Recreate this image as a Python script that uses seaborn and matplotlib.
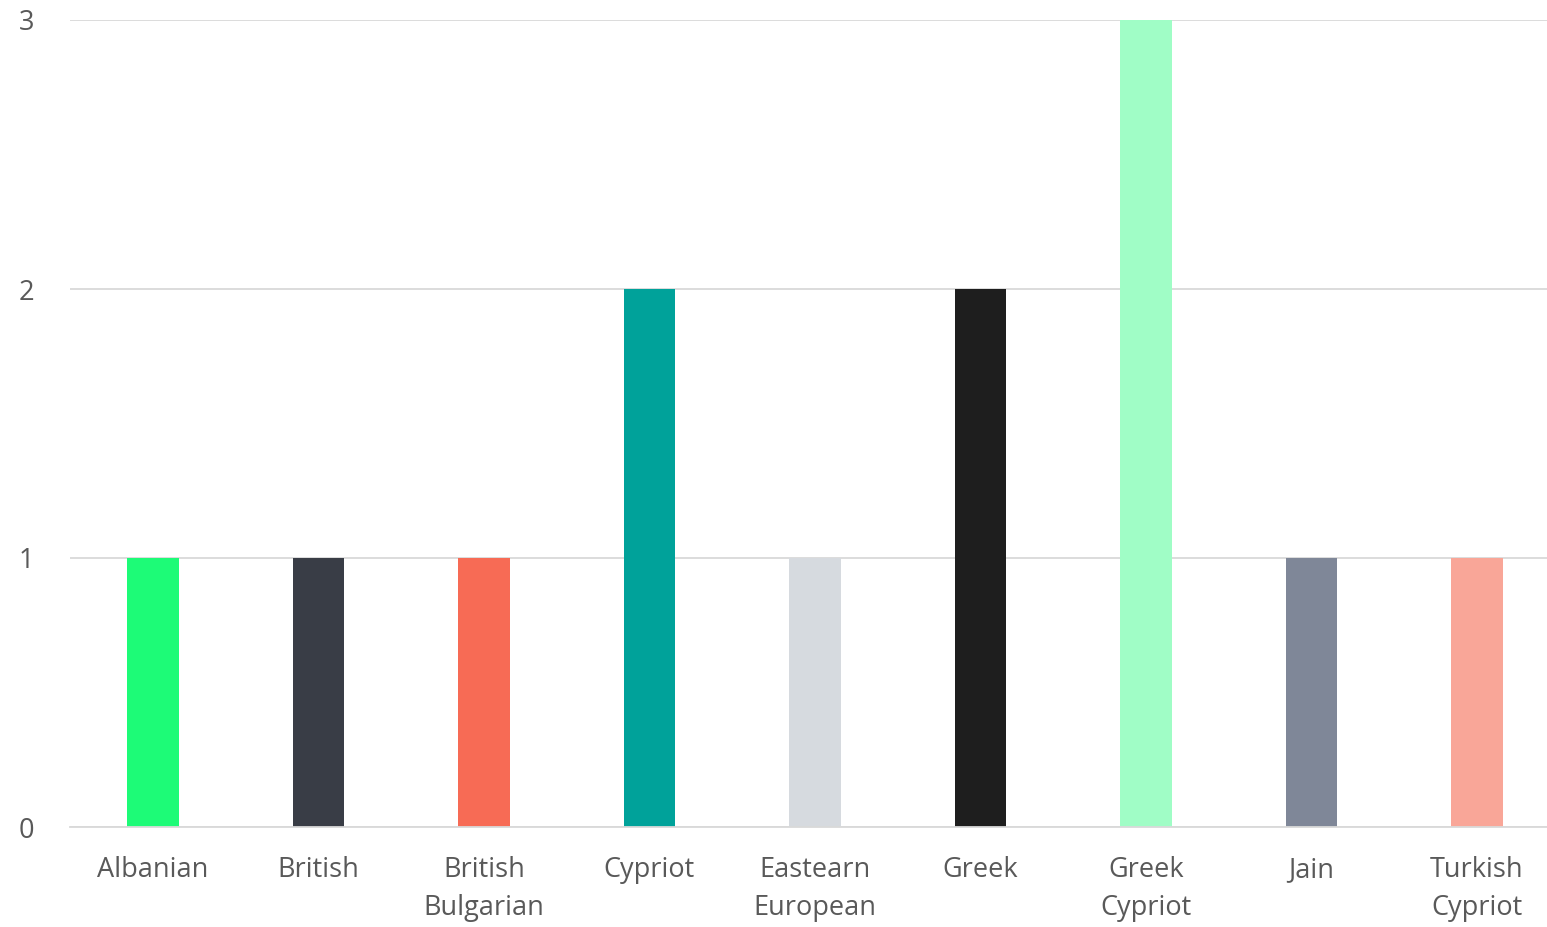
import matplotlib
matplotlib.use("Agg")
import matplotlib.pyplot as plt
import seaborn as sns
import pandas as pd

categories = ["Albanian", "British", "British\nBulgarian", "Cypriot", "Eastearn\nEuropean",
              "Greek", "Greek\nCypriot", "Jain", "Turkish\nCypriot"]
values = [1, 1, 1, 2, 1, 2, 3, 1, 1]
colors = ["#1DFB77", "#393D46", "#F76B55", "#00A29A", "#D6DADF",
          "#1E1E1E", "#A0FDC6", "#7F8798", "#F9A698"]
yticks = [0, 1, 2, 3]

sns.set_theme(style="white")
plt.rcParams['font.family'] = ['Open Sans', 'DejaVu Sans']

df = pd.DataFrame({"cat": categories, "val": values})
fig = plt.figure(figsize=(15.47, 9.27), dpi=100)
ax = fig.add_axes([70/1547, 100/927, 1 - 70/1547, 807/927])
sns.barplot(data=df, x="cat", y="val", hue="cat", palette=colors, width=0.314,
            legend=False, ax=ax, saturation=1, linewidth=0)
ax.set_ylim(0, 3)
ax.set_xlim(-0.5015, 8.423)
ax.set_yticks(yticks)
ax.yaxis.grid(True, color="#D9D9D9", linewidth=1.3)
ax.set_axisbelow(True)
for s in ["top", "right", "left"]:
    ax.spines[s].set_visible(False)
ax.spines["bottom"].set_color("#D9D9D9")
ax.spines["bottom"].set_linewidth(1.3)
ax.set_xlabel("")
ax.set_ylabel("")
ax.tick_params(axis="y", length=0, pad=26, labelsize=19.5, labelcolor="#595959")
ax.tick_params(axis="x", length=0, pad=21, labelsize=19.5, labelcolor="#595959")
for t in ax.get_xticklabels():
    t.set_linespacing(1.45)
fig.savefig("out.png", dpi=100)
